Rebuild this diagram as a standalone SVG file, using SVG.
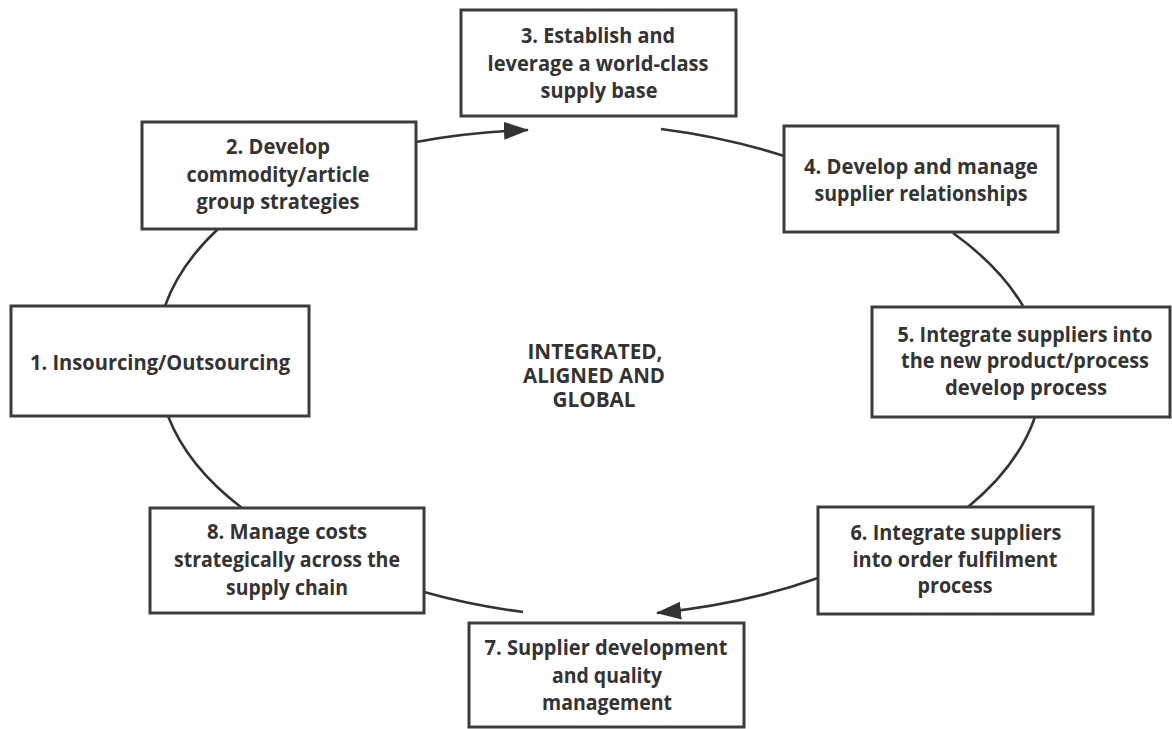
<svg xmlns="http://www.w3.org/2000/svg" width="1172" height="729" viewBox="0 0 1172 729">
  <defs>
    <style>
      .box { fill: #ffffff; stroke: #3c3c3c; stroke-width: 3; }
      .lbl { font-family: "Open Sans", "Noto Sans", "DejaVu Sans", sans-serif; font-weight: 700; font-size: 22px; fill: #333333; text-anchor: middle; }
      .conn { fill: none; stroke: #333333; stroke-width: 2.6; }
    </style>
    <marker id="arrow" markerUnits="userSpaceOnUse" markerWidth="25" markerHeight="19" viewBox="0 0 25 19" refX="24" refY="9.5" orient="auto">
      <path d="M0,0.5 L25,9.5 L0,18.5 Z" fill="#333333"/>
    </marker>
  </defs>
  <rect width="1172" height="729" fill="#ffffff"/>

  <g id="connectors">
    <path class="conn" d="M416,142 A440,243 0 0 1 528,130" marker-end="url(#arrow)"/>
    <path class="conn" d="M661,129 A440,243 0 0 1 784,156"/>
    <path class="conn" d="M953,233 A440,243 0 0 1 1023,306"/>
    <path class="conn" d="M1035,417 A440,243 0 0 1 968,507"/>
    <path class="conn" d="M818,578 A440,243 0 0 1 657,613" marker-end="url(#arrow)"/>
    <path class="conn" d="M424,592 A440,243 0 0 0 523,612"/>
    <path class="conn" d="M168,416 A440,243 0 0 0 242,508"/>
    <path class="conn" d="M218,229 A440,243 0 0 0 165,306"/>
  </g>

  <g id="node1">
    <rect class="box" x="11" y="306" width="298" height="110"/>
    <text class="lbl" x="160" y="370" textLength="260" lengthAdjust="spacingAndGlyphs">1. Insourcing/Outsourcing</text>
  </g>

  <g id="node2">
    <rect class="box" x="142" y="122" width="274" height="107"/>
    <text class="lbl" x="278" y="154" textLength="104" lengthAdjust="spacingAndGlyphs">2. Develop</text>
    <text class="lbl" x="278" y="182" textLength="183" lengthAdjust="spacingAndGlyphs">commodity/article</text>
    <text class="lbl" x="278" y="209" textLength="163" lengthAdjust="spacingAndGlyphs">group strategies</text>
  </g>

  <g id="node3">
    <rect class="box" x="461" y="10" width="275" height="106"/>
    <text class="lbl" x="598" y="43" textLength="154" lengthAdjust="spacingAndGlyphs">3. Establish and</text>
    <text class="lbl" x="598" y="71" textLength="221" lengthAdjust="spacingAndGlyphs">leverage a world-class</text>
    <text class="lbl" x="599" y="98" textLength="117" lengthAdjust="spacingAndGlyphs">supply base</text>
  </g>

  <g id="node4">
    <rect class="box" x="784" y="126" width="274" height="106"/>
    <text class="lbl" x="921" y="174" textLength="234" lengthAdjust="spacingAndGlyphs">4. Develop and manage</text>
    <text class="lbl" x="921" y="201" textLength="213" lengthAdjust="spacingAndGlyphs">supplier relationships</text>
  </g>

  <g id="node5">
    <rect class="box" x="872" y="307" width="298" height="110"/>
    <text class="lbl" x="1025" y="342" textLength="255" lengthAdjust="spacingAndGlyphs">5. Integrate suppliers into</text>
    <text class="lbl" x="1025" y="368" textLength="248" lengthAdjust="spacingAndGlyphs">the new product/process</text>
    <text class="lbl" x="1026" y="395" textLength="162" lengthAdjust="spacingAndGlyphs">develop process</text>
  </g>

  <g id="node6">
    <rect class="box" x="818" y="507" width="275" height="107"/>
    <text class="lbl" x="956" y="540" textLength="211" lengthAdjust="spacingAndGlyphs">6. Integrate suppliers</text>
    <text class="lbl" x="955" y="567" textLength="205" lengthAdjust="spacingAndGlyphs">into order fulfilment</text>
    <text class="lbl" x="955" y="593" textLength="75" lengthAdjust="spacingAndGlyphs">process</text>
  </g>

  <g id="node7">
    <rect class="box" x="469" y="623" width="275" height="104"/>
    <text class="lbl" x="606" y="655" textLength="243" lengthAdjust="spacingAndGlyphs">7. Supplier development</text>
    <text class="lbl" x="607" y="683" textLength="110" lengthAdjust="spacingAndGlyphs">and quality</text>
    <text class="lbl" x="607" y="710" textLength="130" lengthAdjust="spacingAndGlyphs">management</text>
  </g>

  <g id="node8">
    <rect class="box" x="150" y="508" width="274" height="105"/>
    <text class="lbl" x="287" y="539" textLength="160" lengthAdjust="spacingAndGlyphs">8. Manage costs</text>
    <text class="lbl" x="287" y="567" textLength="226" lengthAdjust="spacingAndGlyphs">strategically across the</text>
    <text class="lbl" x="287" y="595" textLength="122" lengthAdjust="spacingAndGlyphs">supply chain</text>
  </g>

  <g id="center-label">
    <text class="lbl" x="595" y="359" textLength="135" lengthAdjust="spacingAndGlyphs">INTEGRATED,</text>
    <text class="lbl" x="594" y="383" textLength="142" lengthAdjust="spacingAndGlyphs">ALIGNED AND</text>
    <text class="lbl" x="594" y="407" textLength="83" lengthAdjust="spacingAndGlyphs">GLOBAL</text>
  </g>
</svg>
